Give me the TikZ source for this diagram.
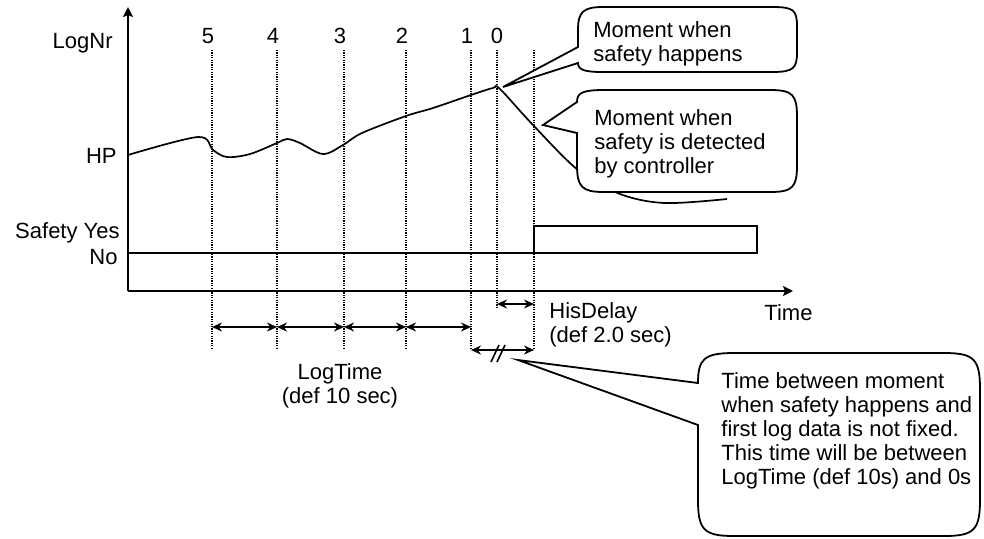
\documentclass[tikz,border=0pt]{standalone}
\usepackage{fontspec}
\setmainfont{Liberation Sans}
\usetikzlibrary{arrows.meta}

\begin{document}
\begin{tikzpicture}[x=0.5pt,y=-0.5pt,
  every node/.style={font=\fontsize{11}{12}\selectfont,inner sep=0pt},
  axis/.style={line width=1.3pt,-{Stealth[length=5pt,width=5pt,inset=1pt]}},
  tick/.style={dash pattern=on 0.6pt off 0.6pt,line width=0.7pt},
  span/.style={line width=1pt,{Stealth[length=5pt,width=4.5pt]}-{Stealth[length=5pt,width=4.5pt]}},
  bubble/.style={draw,fill=white,line width=0.9pt},
  lbl/.style={anchor=base east},
  txt/.style={align=left,anchor=base west}]
\useasboundingbox (0,0) rectangle (984,538);

% axes
\coordinate (O) at (128,291);
\coordinate (ytop) at (128,7);
\coordinate (xend) at (793,291);
\draw[axis] (O) -- (ytop);
\draw[axis] (O) -- (xend);
\node[lbl] (lognr) at (113,48) {LogNr};
\node[lbl] (hp) at (117,163) {HP};
\node[lbl] (yes) at (120,238) {Safety Yes};
\node[lbl] (no) at (118,264) {No};
\node[anchor=base west] (time) at (764,320) {Time};

% log moments
\foreach \n/\x in {5/212,4/277,3/344,2/406,1/471}{
  \node[anchor=base] (n\n) at (\x-4,43) {\n};
  \coordinate (a\n) at (\x,50);
  \coordinate (b\n) at (\x,350);
  \coordinate (m\n) at (\x,327);
  \draw[tick] (a\n) -- (b\n);
}
\node[anchor=base] (n0) at (497,43) {0};
\coordinate (a0) at (497,50);
\coordinate (b0) at (497,307);
\coordinate (h0) at (497,304);
\draw[tick] (a0) -- (b0);
\coordinate (aD) at (534,50);
\coordinate (bD) at (534,350);
\coordinate (hD) at (534,304);
\draw[tick] (aD) -- (bD);

% safety signal
\draw[line width=0.8pt] (128,253) -- (534,253);
\draw[line width=1pt] (534,226) rectangle (757,253);

% process value
\draw[line width=0.85pt] plot[smooth,tension=0.55] coordinates {
  (128,155) (198,137) (213,150) (227,157) (250,154) (277,143) (287,139)
  (300,143) (323,154) (343,145) (362,133) (406,116) (433,108) (471,95)
  (493,88) (500,89) (533,125) (578,170) (620,194) (665,203) (727,199)};

% time spans
\draw[span] (m5) -- (m4);
\draw[span] (m4) -- (m3);
\draw[span] (m3) -- (m2);
\draw[span] (m2) -- (m1);
\draw[span] (h0) -- (hD);
\draw[span] (b1) -- (bD);
\draw[line width=0.8pt] (491,362) -- (499,345) (497,362) -- (505,345);
\node[align=center,anchor=base] (logtime) at (340,403) {LogTime\\(def 10 sec)};
\node[txt] (hisdelay) at (549,342) {HisDelay\\(def 2.0 sec)};

% callouts
\draw[bubble] (578,63) .. controls (578,70) and (585,72) .. (603,72) -- (772,72)
  .. controls (794,72) and (797,68) .. (797,52) -- (797,27)
  .. controls (797,10) and (794,7) .. (772,7) -- (603,7)
  .. controls (583,7) and (578,12) .. (578,30) -- (578,47) -- (503,87) -- cycle;
\node[txt] (happens) at (593,61) {Moment when\\safety happens};

\draw[bubble] (577,133) -- (577,165) .. controls (577,187) and (582,192) .. (604,192)
  -- (770,192) .. controls (793,192) and (797,187) .. (797,165) -- (797,117)
  .. controls (797,95) and (793,90) .. (770,90) -- (604,90)
  .. controls (582,90) and (577,93) .. (577,102) -- (543,125) -- cycle;
\node[txt] (detected) at (594,173) {Moment when\\safety is detected\\by controller};

\draw[bubble] (698,425) -- (698,500) .. controls (698,530) and (704,536) .. (734,536)
  -- (944,536) .. controls (974,536) and (980,530) .. (980,500) -- (980,389)
  .. controls (980,359) and (974,353) .. (944,353) -- (734,353)
  .. controls (704,353) and (698,359) .. (698,383) -- (518,360) -- cycle;
\node[txt] (notfixed) at (721,484) {Time between moment\\when safety happens and\\first log data is not fixed.\\This time will be between\\LogTime (def 10s) and 0s};
\end{tikzpicture}
\end{document}
